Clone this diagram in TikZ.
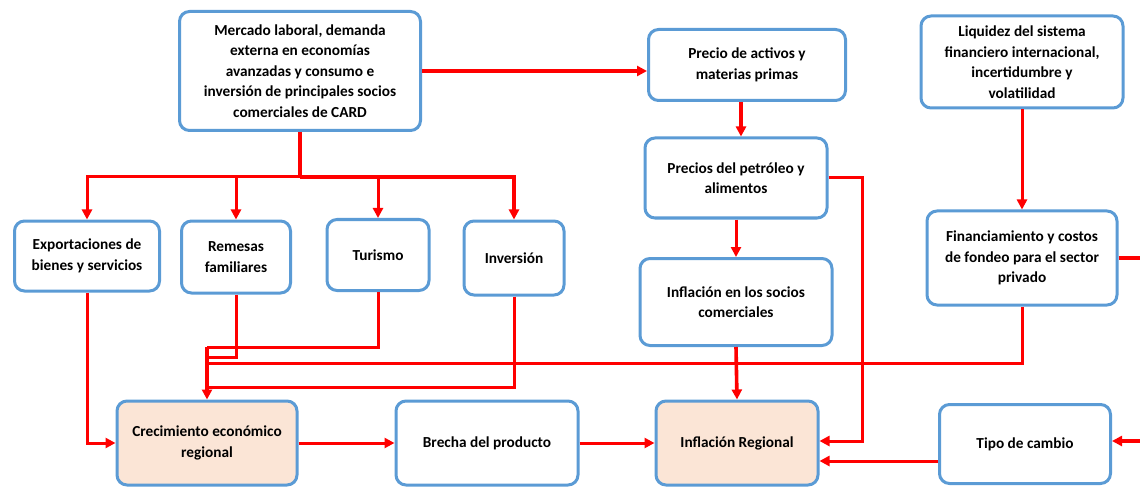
\documentclass[tikz,border=0pt]{standalone}
\usepackage{fontspec}
\setmainfont{Carlito}
\usetikzlibrary{arrows.meta}

\definecolor{boxblue}{RGB}{91,155,213}
\definecolor{peach}{RGB}{251,229,214}

\begin{document}
\begin{tikzpicture}[
  x=1pt, y=-1pt,
  box/.style = {shape=rectangle, draw=boxblue, line width=3pt, rounded corners=10pt,
    align=center, fill=white, inner sep=2pt,
    font=\bfseries\fontsize{15.3}{20.5}\selectfont},
  hot/.style = {box, fill=peach}
  ]
  \useasboundingbox (0,0) rectangle (1140,489);

  % upper row
  \node[box, minimum width=241pt, minimum height=119pt] (merc) at (300,71)
    {Mercado laboral, demanda\\externa en econom\'ias\\avanzadas y consumo e\\inversi\'on de principales socios\\comerciales de CARD};
  \node[box, minimum width=197pt, minimum height=71pt] (activos) at (747,65)
    {Precio de activos y\\materias primas};
  \node[box, minimum width=202pt, minimum height=92pt] (liq) at (1022,62)
    {Liquidez del sistema\\financiero internacional,\\incertidumbre y\\volatilidad};
  \node[box, minimum width=182pt, minimum height=80pt] (petro) at (736,178)
    {Precios del petr\'oleo y\\alimentos};
  \node[box, minimum width=192pt, minimum height=87pt] (socios) at (736,302)
    {Inflaci\'on en los socios\\comerciales};
  \node[box, minimum width=190pt, minimum height=94pt] (finan) at (1022,258)
    {Financiamiento y costos\\de fondeo para el sector\\privado};

  % channels
  \node[box, minimum width=145pt, minimum height=70pt] (expo) at (87,256)
    {Exportaciones de\\bienes y servicios};
  \node[box, minimum width=109pt, minimum height=72pt] (rem) at (236,257)
    {Remesas\\familiares};
  \node[box, minimum width=102pt, minimum height=71pt] (tur) at (378,255) {Turismo};
  \node[box, minimum width=100pt, minimum height=74pt] (inv) at (514,258) {Inversi\'on};

  % bottom row
  \node[hot, minimum width=180pt, minimum height=84pt] (crec) at (207,443)
    {Crecimiento econ\'omico\\regional};
  \node[box, minimum width=182pt, minimum height=84pt] (brecha) at (487,443)
    {Brecha del producto};
  \node[hot, minimum width=162pt, minimum height=84pt] (infl) at (737,443)
    {Inflaci\'on Regional};
  \node[box, minimum width=171pt, minimum height=79pt] (tipo) at (1025,444)
    {Tipo de cambio};

  \tikzset{Link/.style = {red, line width=3pt, -{Triangle[length=10pt,width=10pt]}}}
  \tikzset{LinkBold/.style = {Link, line width=3.6pt}}

  \coordinate (split) at (300,177);
  \coordinate (fromTur) at (207,347);
  \coordinate (fromRem) at (207,357);
  \coordinate (fromFin) at (207,363);
  \coordinate (fromInv) at (207,387);
  \coordinate (petroBend) at (862,441);
  \coordinate (tipoIn) at (938,461);
  \coordinate (finOut) at (1140,258);
  \coordinate (tipoFeed) at (1140,441);

  \draw[LinkBold] (merc.east |- 0,71) -- (activos.west |- 0,71);
  \draw[LinkBold, -] (merc.south) -- (split);
  \draw[Link] (split) -| (expo.north);
  \draw[Link] (split) -| (rem.north);
  \draw[Link] (split) -| (tur.north);
  \draw[LinkBold] (split) -| (inv.north);

  \draw[LinkBold] (activos.south -| 741,0) -- (petro.north -| 741,0);
  \draw[Link] (petro.south) -- (socios.north);
  \draw[Link] (petro.east) -| (petroBend) -- (infl.east |- petroBend);
  \draw[LinkBold] (socios.south) -- (infl.north);
  \draw[Link] (liq.south) -- (finan.north);

  \draw[Link, -] (tur.south) |- (fromTur);
  \draw[Link, -] (rem.south) |- (fromRem);
  \draw[Link, -] (finan.south) |- (fromFin);
  \draw[Link, -] (inv.south) |- (fromInv);
  \draw[LinkBold] (fromTur) -- (crec.north);

  \draw[Link] (expo.south) |- (crec.west);
  \draw[Link] (crec.east) -- (brecha.west);
  \draw[Link] (brecha.east) -- (infl.west);
  \draw[Link] (tipoIn) -- (infl.east |- tipoIn);

  \draw[red, line width=4.5pt] (finan.east) -- (finOut);
  \draw[LinkBold, line width=4.5pt] (tipoFeed) -- (tipo.east |- tipoFeed);

\end{tikzpicture}
\end{document}
